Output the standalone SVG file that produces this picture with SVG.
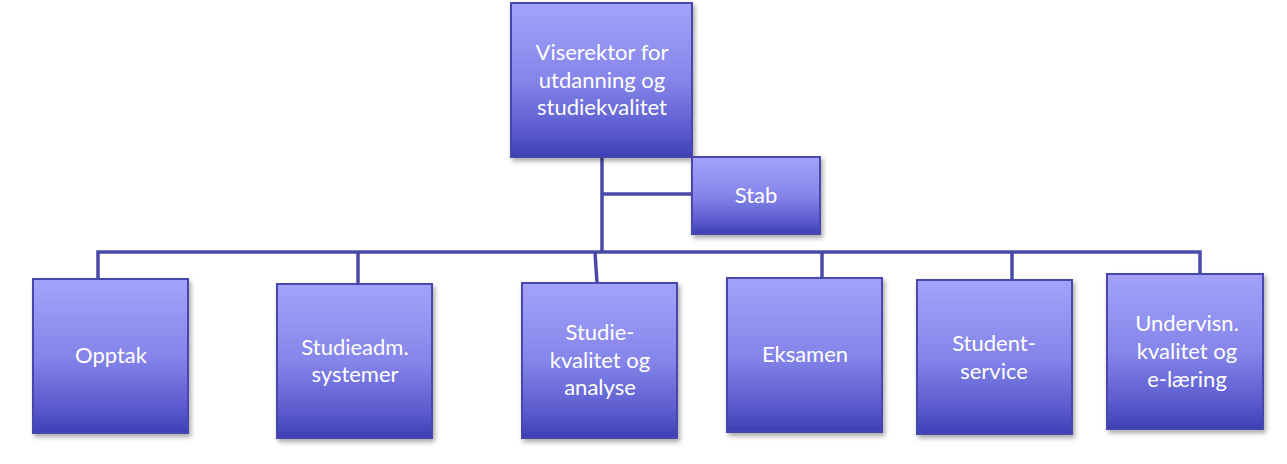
<svg xmlns="http://www.w3.org/2000/svg" width="1287" height="464" viewBox="0 0 1287 464">
<defs>
<linearGradient id="g" x1="0" y1="0" x2="0" y2="1">
<stop offset="0" stop-color="#a3a3fb"/>
<stop offset="0.5" stop-color="#8585ea"/>
<stop offset="0.85" stop-color="#5858cc"/>
<stop offset="1" stop-color="#3e3eb6"/>
</linearGradient>
<filter id="sh" x="-10%" y="-10%" width="125%" height="125%">
<feGaussianBlur in="SourceAlpha" stdDeviation="2.5"/>
<feOffset dx="2" dy="3" result="b"/>
<feComponentTransfer><feFuncA type="linear" slope="0.35"/></feComponentTransfer>
<feMerge><feMergeNode/><feMergeNode in="SourceGraphic"/></feMerge>
</filter>
</defs>
<style>
.box{fill:url(#g);stroke:#4646ae;stroke-width:2;filter:url(#sh)}
.t{font-family:Lato,"Open Sans","Liberation Sans",sans-serif;font-size:22px;fill:#ffffff;text-anchor:middle}
.c{fill:none;stroke:#4a4aaa;stroke-width:3.5}
</style>
<g id="connectors">
<path class="c" d="M602,157 V252"/>
<path class="c" d="M602,194 H692"/>
<path class="c" d="M98,279 V252 H1200 V274"/>
<path class="c" d="M358,252 V284"/>
<path class="c" d="M595,252 L597,283"/>
<path class="c" d="M822,252 V278"/>
<path class="c" d="M1012,252 V280"/>
</g>
<g id="n-viserektor">
<rect class="box" x="511" y="3" width="181" height="154"/>
<text class="t" x="602" y="60">Viserektor for</text>
<text class="t" x="602" y="88">utdanning og</text>
<text class="t" x="602" y="115">studiekvalitet</text>
</g>
<g id="n-stab">
<rect class="box" x="692" y="157" width="128" height="77"/>
<text class="t" x="756" y="203">Stab</text>
</g>
<g id="n-opptak">
<rect class="box" x="33" y="279" width="155" height="154"/>
<text class="t" x="111" y="363">Opptak</text>
</g>
<g id="n-studieadm">
<rect class="box" x="277" y="284" width="155" height="154"/>
<text class="t" x="355" y="355">Studieadm.</text>
<text class="t" x="355" y="382">systemer</text>
</g>
<g id="n-studiekvalitet">
<rect class="box" x="522" y="283" width="155" height="155"/>
<text class="t" x="600" y="340">Studie-</text>
<text class="t" x="600" y="368">kvalitet og</text>
<text class="t" x="600" y="395">analyse</text>
</g>
<g id="n-eksamen">
<rect class="box" x="727" y="278" width="155" height="154"/>
<text class="t" x="805" y="362">Eksamen</text>
</g>
<g id="n-studentservice">
<rect class="box" x="917" y="280" width="155" height="154"/>
<text class="t" x="994" y="351">Student-</text>
<text class="t" x="994" y="379">service</text>
</g>
<g id="n-undervisn">
<rect class="box" x="1107" y="274" width="156" height="155"/>
<text class="t" x="1187" y="331">Undervisn.</text>
<text class="t" x="1187" y="359">kvalitet og</text>
<text class="t" x="1187" y="387">e-læring</text>
</g>
</svg>
